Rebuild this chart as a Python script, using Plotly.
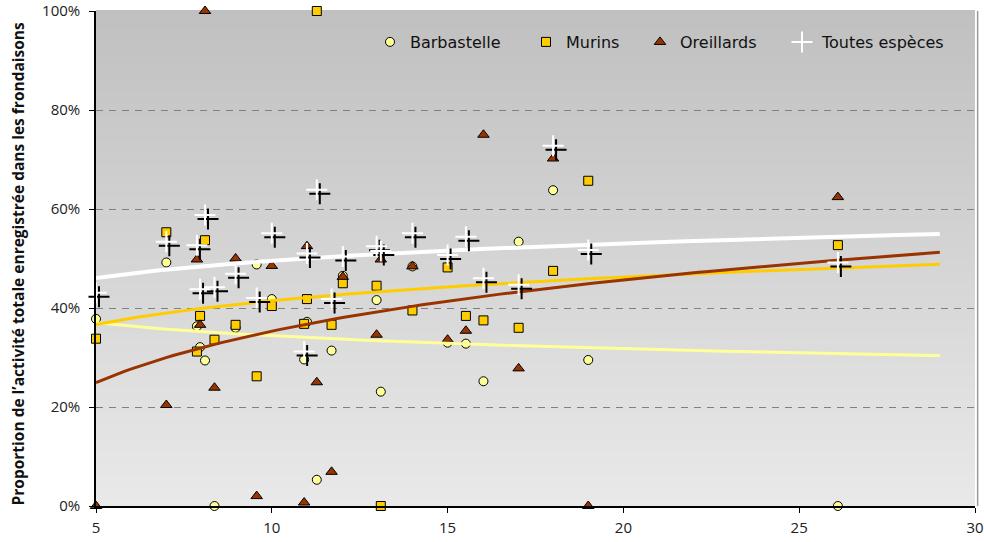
import numpy as np
import plotly.graph_objects as go

# Sites (x) and share of total activity recorded in the canopy, per group (%)
sites = [5, 7, 7.87, 7.96, 8.1, 8.37, 8.97, 9.57, 10.0, 10.92, 11.0, 11.28, 11.7,
         12.02, 12.98, 13.1, 14.0, 15.0, 15.52, 16.02, 17.02, 18.0, 19.0, 26.1]

barbastelle = [37.8, 49.2, 36.3, 32.1, 29.4, 0, 36.0, 48.8, 41.8, 29.6, 37.2, 5.3, 31.4,
               46.5, 41.6, 23.1, 48.4, 33.0, 32.8, 25.2, 53.4, 63.8, 29.5, 0]
murins = [33.8, 55.3, 31.2, 38.4, 53.7, 33.6, 36.6, 26.2, 40.4, 36.8, 41.8, 100, 36.6,
          45.0, 44.5, 0, 39.5, 48.2, 38.4, 37.5, 36.0, 47.5, 65.7, 52.7]
oreillards = [0, 20.4, 49.8, 36.6, 100, 23.9, 50.0, 2.0, 48.5, 0.7, 52.5, 25.0, 6.9,
              46.3, 34.6, 49.8, 48.4, 33.6, 35.4, 75.0, 27.8, 70.2, 0, 62.4]
toutes = [43.1, 53.4, 52.7, 43.8, 58.8, 44.2, 46.9, 42.0, 55.1, 31.2, 51.0, 63.9, 41.8,
          50.4, 52.5, 51.5, 55.1, 50.7, 54.4, 46.0, 44.7, 72.8, 51.7, 49.2]

names = ["Barbastelle", "Murins", "Oreillards", "Toutes espèces"]
x_ticks = [5, 10, 15, 20, 25, 30]
y_ticks = [0, 0.2, 0.4, 0.6, 0.8, 1.0]

X_RANGE = [5, 30]
Y_RANGE = [0, 1]
TREND_END = 29  # logarithmic trendlines extended 3 units forward

W, H = 984, 542
M_L, M_R, M_T, M_B = 96, 9, 11, 36
PW = W - M_L - M_R
PH = H - M_T - M_B

x = np.array(sites, dtype=float)


def pct(v):
    return np.array(v, dtype=float) / 100.0


def log_trend(vals):
    b, a = np.polyfit(np.log(x), pct(vals), 1)
    xs = np.linspace(x.min(), TREND_END, 120)
    return xs, a + b * np.log(xs)


fig = go.Figure()

# one legend box per series so each entry sits at its own position
legend_ids = ["legend", "legend2", "legend3", "legend4"]
legend_x_px = [370, 526, 640, 782]

marker_styles = [
    (barbastelle, "circle", "#FFFF99", 9),
    (murins, "square", "#FFCC00", 9),
    (oreillards, "triangle-up", "#993300", 10),
]
for (vals, sym, col, sz), nm, lg in zip(marker_styles, names[:3], legend_ids[:3]):
    fig.add_trace(go.Scatter(
        x=x, y=pct(vals), mode="markers", name=nm, legend=lg, cliponaxis=False,
        marker=dict(symbol=sym, size=sz, color=col, line=dict(color="black", width=1)),
    ))

# Logarithmic trendlines
trend_styles = [
    (barbastelle, "#FFFF99", 3),
    (murins, "#FFCC00", 3),
    (oreillards, "#993300", 3),
    (toutes, "#FFFFFF", 4),
]
for vals, col, w in trend_styles:
    xs, ys = log_trend(vals)
    fig.add_trace(go.Scatter(x=xs, y=ys, mode="lines", showlegend=False,
                             hoverinfo="skip", line=dict(color=col, width=w)))

# "Toutes espèces": white cross with a dark drop shadow (shadow drawn on an
# overlay axis pair shifted by a few pixels)
dx_px, dy_px = 3, 4
dx = dx_px * (X_RANGE[1] - X_RANGE[0]) / PW
dy = dy_px * (Y_RANGE[1] - Y_RANGE[0]) / PH
fig.add_trace(go.Scatter(
    x=x, y=pct(toutes), mode="markers", xaxis="x2", yaxis="y2", showlegend=False,
    cliponaxis=False, hoverinfo="skip",
    marker=dict(symbol="cross-thin", size=15, line=dict(color="black", width=2)),
))
fig.add_trace(go.Scatter(
    x=x, y=pct(toutes), mode="markers", xaxis="x3", yaxis="y3", name=names[3],
    legend=legend_ids[3], cliponaxis=False,
    marker=dict(symbol="cross-thin", size=15, line=dict(color="white", width=2)),
))

# Vertical grey gradient behind the plot area
n_bands = 80
top = np.array([192, 192, 192])
bottom = np.array([233, 233, 233])
for i in range(n_bands):
    t = i / (n_bands - 1)
    c = (bottom + (top - bottom) * t).round().astype(int)
    fig.add_shape(type="rect", xref="paper", yref="paper",
                  x0=0, x1=1, y0=i / n_bands, y1=(i + 1) / n_bands + 0.002,
                  fillcolor=f"rgb({c[0]},{c[1]},{c[2]})", line=dict(width=0),
                  layer="below")
fig.add_shape(type="line", xref="paper", yref="paper", x0=1.003, x1=1.003, y0=0, y1=1,
              line=dict(color="#9a9a9a", width=1.5))

tick_font = dict(family="Open Sans", size=15, color="#222222")
legend_font = dict(family="DejaVu Sans", size=16, color="#111111")
legend_y = (H - M_B - 42) / PH

layout_legends = {}
for lg, px in zip(legend_ids, legend_x_px):
    layout_legends[lg] = dict(orientation="h", x=(px - M_L) / PW, y=legend_y,
                              xanchor="left", yanchor="middle",
                              bgcolor="rgba(0,0,0,0)", font=legend_font)

fig.update_layout(
    width=W, height=H,
    margin=dict(l=M_L, r=M_R, t=M_T, b=M_B, pad=0),
    paper_bgcolor="white", plot_bgcolor="rgba(0,0,0,0)",
    xaxis=dict(range=X_RANGE, tickvals=x_ticks, showgrid=False, zeroline=False,
               showline=True, linecolor="black", linewidth=1.5, automargin=False,
               ticks="outside", ticklen=5, tickcolor="black", tickfont=tick_font,
               ticklabelstandoff=2),
    yaxis=dict(range=Y_RANGE, tickvals=y_ticks, tickformat=".0%", zeroline=False,
               showgrid=True, gridcolor="#808080", gridwidth=1, griddash="7px,6px",
               showline=True, linecolor="black", linewidth=1.5, automargin=False,
               ticks="outside", ticklen=5, tickcolor="black", tickfont=tick_font,
               ticklabelstandoff=6),
    xaxis2=dict(overlaying="x", range=[X_RANGE[0] - dx, X_RANGE[1] - dx], visible=False),
    yaxis2=dict(overlaying="y", range=[Y_RANGE[0] + dy, Y_RANGE[1] + dy], visible=False),
    xaxis3=dict(overlaying="x", range=X_RANGE, visible=False),
    yaxis3=dict(overlaying="y", range=Y_RANGE, visible=False),
    showlegend=True,
    **layout_legends,
)

fig.add_annotation(
    text="<b>Proportion de l’activité totale enregistrée dans les frondaisons</b>",
    xref="paper", yref="paper", x=(18 - M_L) / PW, y=0.49, textangle=-90,
    showarrow=False, xanchor="center", yanchor="middle",
    font=dict(family="Open Sans", size=15.5, color="#111111"),
)

fig.write_html("out.html")
